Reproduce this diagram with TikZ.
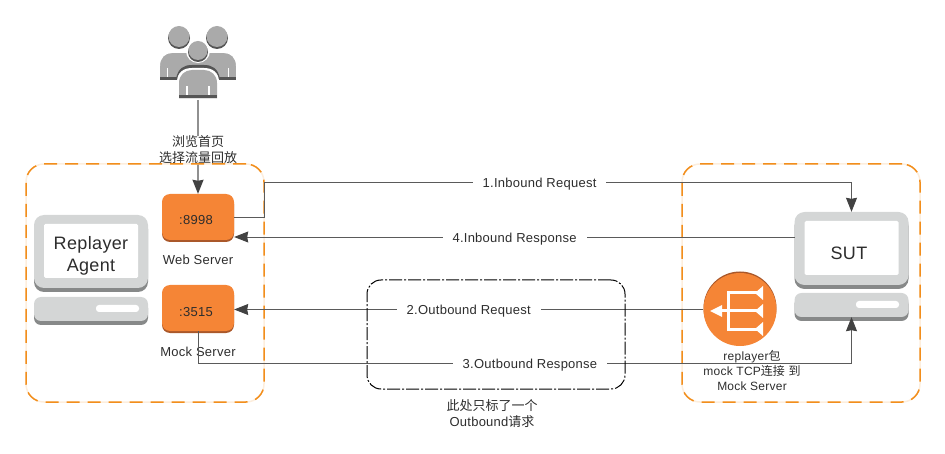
\documentclass[tikz,border=0pt]{standalone}
\usepackage{fontspec}
\setmainfont[LetterSpace=2]{Liberation Sans}
\newfontfamily\cjk{Noto Sans CJK SC}
\usepackage{xcolor}
\usetikzlibrary{arrows.meta,positioning,shapes,calc,shadows}
\definecolor{boxorange}{RGB}{245,133,54}
\definecolor{boxshade}{RGB}{170,88,42}
\definecolor{dashorange}{RGB}{242,142,28}
\definecolor{monitorgray}{RGB}{212,214,214}
\definecolor{monitorshade}{RGB}{135,137,137}
\definecolor{usergray}{RGB}{170,170,170}
\definecolor{userdark}{RGB}{85,85,85}
\definecolor{inktext}{RGB}{45,45,45}
\definecolor{linkgray}{RGB}{90,90,90}
\tikzset{
  porttip/.style={-{Stealth[length=14pt,width=11pt,inset=1pt,color=inktext!90]}},
  link/.style={draw=linkgray, line width=0.9pt},
  linklabel/.style={fill=white, inner xsep=10pt, inner ysep=1pt, yshift=-2pt, text=inktext},
  plainlabel/.style={align=center, inner sep=0pt, text=inktext},
  bigtext/.style={plainlabel, font=\fontsize{18}{22}\selectfont},
  portbox/.style={fill=boxorange, rounded corners=8pt, minimum width=72pt, minimum height=46pt, inner sep=0pt, text=inktext,
    general shadow={shadow yshift=-2pt, fill=boxshade}},
  monitor/.style={fill=monitorgray, rounded corners=10pt, minimum width=114pt, minimum height=73pt, inner sep=0pt,
    general shadow={shadow yshift=-4pt, fill=monitorshade}},
  screen/.style={fill=white, rounded corners=1.5pt, minimum width=94pt, minimum height=54pt, inner sep=0pt},
  monitorbase/.style={fill=monitorgray, rounded corners=7pt, minimum width=114pt, minimum height=24pt, inner sep=0pt,
    general shadow={shadow yshift=-4pt, fill=monitorshade}},
  basebutton/.style={fill=white, rounded corners=3pt, minimum width=43pt, minimum height=7pt, inner sep=0pt},
  zonebox/.style={draw=dashorange, line width=1.5pt, rounded corners=18pt, dash pattern=on 13pt off 8pt, minimum width=238pt, minimum height=238pt, inner sep=0pt,
    preaction={draw=dashorange!15, solid}},
}
\begin{document}
\begin{tikzpicture}[x=1pt, y=-1pt, font=\fontsize{13}{15}\selectfont]
\useasboundingbox (0,0) rectangle (945,454);

\foreach \hx in {179,217} {
  \fill[userdark] (\hx,38) circle (11);
  \fill[usergray] (\hx,36.5) circle (10.5);
}
\fill[usergray] (160,80) -- (160,53) -- (236,53) -- (236,80) -- cycle;
\fill[white] (160,53) -- (172,53) .. controls (165,53) and (160,58) .. (160,66) -- cycle;
\fill[white] (236,53) -- (224,53) .. controls (231,53) and (236,58) .. (236,66) -- cycle;
\fill[userdark] (160,77) rectangle (236,80);
\fill[userdark] (176,79) .. controls (178,68) and (184,65) .. (192,65) -- (204,65) .. controls (212,65) and (218,68) .. (220,79) -- cycle;
\fill[white] (177,82) .. controls (177,72) and (184,68) .. (192,68) -- (204,68) .. controls (212,68) and (219,72) .. (219,82) -- (219,84) -- (177,84) -- cycle;
\fill[usergray] (179,98.5) -- (179,83) .. controls (179,75) and (185,70) .. (192,70) -- (204,70) .. controls (211,70) and (217,75) .. (217,83) -- (217,98.5) -- cycle;
\fill[userdark] (179,95.5) rectangle (217,98.5);
\foreach \tx/\ty in {167.5/68,228.5/68,187/86,209/86} {
  \fill[white] (\tx-0.7,\ty) rectangle (\tx+0.7,\ty+9);
}
\fill[white] (198,51) circle (12);
\fill[userdark] (198,52) circle (10);
\fill[usergray] (198,50.5) circle (9.5);

\coordinate (users) at (198,100);
\coordinate (inturn) at (264,182);
\coordinate (sutport) at (795,237);
\coordinate (outturn) at (198,363);

\node[portbox] (web) at (198,217) {\raisebox{-7.5pt}[0pt][0pt]{:8998}\kern4pt};
\node[portbox] (mock) at (198,308) {\raisebox{-8.5pt}[0pt][0pt]{:3515}\kern4pt};
\node[plainlabel, below=15pt of web] (webname) {Web Server};
\node[plainlabel, below=16pt of mock] (mockname) {Mock Server};

\draw[draw=usergray!85!black, line width=1.5pt, porttip] (users) -- (web.north);
\node[plainlabel, fill=white, font=\fontsize{13}{16}\selectfont] (browse) at (198,150) {{\cjk 浏览首页}\\{\cjk 选择流量回放}};

\node[zonebox] (agentzone) at (145,283) {};
\node[zonebox] (sutzone) at (801,283) {};

\node[monitor] (agent) at (91,251.5) {};
\node[screen] (agentscreen) at (91,251) {};
\node[bigtext] (agenttext) at (91,256) {Replayer\\Agent};
\node[monitorbase] (agentbase) at (91,309) {};
\node[basebutton] (agentbutton) at (117.5,308.5) {};

\node[monitor] (sut) at (851.5,248.5) {};
\node[screen] (sutscreen) at (851.5,248) {};
\node[bigtext] (suttext) at (849,253) {SUT};
\node[monitorbase] (sutbase) at (851.5,305) {};
\node[basebutton] (sutbutton) at (877.5,304.5) {};

\node[circle, fill=boxorange, minimum size=73pt, inner sep=0pt, general shadow={shadow yshift=1.5pt, fill=boxshade}] (replayer) at (740,309.5) {};
\draw[white, line width=3pt] (728,291.5) -- (728,330.5) (728,293) -- (757,293) (728,329) -- (757,329) (720,311) -- (757,311);
\fill[white] (710,311) -- (722,305) -- (722,317) -- cycle;
\foreach \iy in {293,311,329} {
  \fill[white] (755,\iy) -- (763,\iy-7) -- (763,\iy+7) -- cycle;
}
\node[plainlabel, font=\fontsize{12}{15}\selectfont] (replayertext) at (752,370) {replayer{\cjk 包}\\mock TCP{\cjk 连接} {\cjk 到}\\Mock Server};

\draw[link, porttip] (web.east) -| (inturn) -- node[linklabel, pos=0.469] {1.Inbound Request} (inturn -| sut.north) -- (sut.north);
\draw[link, porttip] (sutport) -- node[linklabel, pos=0.5] {4.Inbound Response} (sutport -| web.east);
\draw[link, porttip] (replayer.west) -- node[linklabel, pos=0.5] {2.Outbound Request} (replayer.west -| mock.east);
\draw[link, porttip] (mock.south) -- (outturn) -- node[linklabel, pos=0.508] {3.Outbound Response} (outturn -| sutbase.south) -- (sutbase.south);

\node[draw=black, line width=1pt, rounded corners=14pt, dash pattern=on 13pt off 2pt on 2pt off 2pt, minimum width=258pt, minimum height=109pt, inner sep=0pt] (outboundzone) at (496,334.5) {};
\node[plainlabel, font=\fontsize{13}{16}\selectfont, below=10pt of outboundzone, xshift=-4pt] (note) {{\cjk 此处只标了一个}\\Outbound{\cjk 请求}};
\end{tikzpicture}
\end{document}
